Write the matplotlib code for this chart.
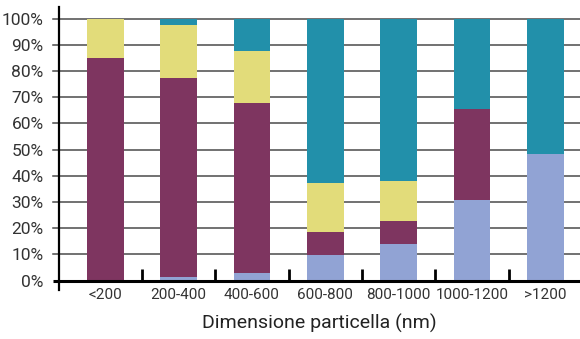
import matplotlib
matplotlib.use("Agg")
import matplotlib.pyplot as plt
import numpy as np

plt.rcParams['font.family'] = ['Roboto', 'DejaVu Sans']

categories = ["<200", "200-400", "400-600", "600-800", "800-1000", "1000-1200", ">1200"]
# percentage shares per size class, stacked bottom to top
light_blue = [0.0, 1.4, 2.8, 9.8, 14.0, 30.8, 48.4]
purple     = [85.0, 76.1, 65.1, 8.9, 8.7, 34.6, 0.0]
yellow     = [15.0, 20.2, 19.9, 18.7, 15.5, 0.0, 0.0]
teal       = [0.0, 2.3, 12.2, 62.6, 61.8, 34.6, 51.6]

series = [light_blue, purple, yellow, teal]
colors = ["#91A3D4", "#7E3560", "#E2DC7A", "#2290AA"]

fig = plt.figure(figsize=(5.8, 3.39), dpi=100)
ax = fig.add_axes([0.1017, 0.172, 0.8983, 0.773])

x = np.arange(len(categories))
ax.set_xlim(-0.63, 6.47)
ax.set_ylim(0, 100)

# grid lines, extended slightly left of the axis as tick marks
for v in range(10, 101, 10):
    ax.plot([-0.012, 1.0], [v, v], transform=ax.get_yaxis_transform(),
            color="#4a4a4a", lw=1.1, clip_on=False, zorder=1)

bottom = np.zeros(len(categories))
for vals, c in zip(series, colors):
    vals = np.array(vals)
    ax.bar(x, vals, width=0.5, bottom=bottom, color=c, zorder=2, linewidth=0)
    bottom += vals

for s in ax.spines.values():
    s.set_visible(False)

# heavy left axis line overshooting top and bottom
ax.plot([0, 0], [-0.035, 1.045], transform=ax.transAxes, color="black",
        lw=1.6, clip_on=False, zorder=3)
# heavy baseline
ax.plot([-0.012, 1.0], [0, 0], transform=ax.get_yaxis_transform(),
        color="black", lw=2.2, clip_on=False, zorder=3, solid_capstyle="butt")

ax.set_yticks(range(0, 101, 10))
ax.set_yticklabels([f"{v}%" for v in range(0, 101, 10)])
ax.tick_params(axis="y", length=0, pad=11, labelsize=12.5, labelcolor="#333333")

ax.set_xticks(x)
ax.set_xticklabels(categories)
ax.tick_params(axis="x", which="major", length=0, pad=5, labelsize=11, labelcolor="#333333")
ax.set_xticks(np.arange(0.5, len(categories) - 1, 1.0), minor=True)
ax.tick_params(axis="x", which="minor", direction="in", length=9, width=2, color="black")

ax.set_xlabel("Dimensione particella (nm)", fontsize=14, color="#222222", labelpad=9)

fig.savefig("out.png", dpi=100)
